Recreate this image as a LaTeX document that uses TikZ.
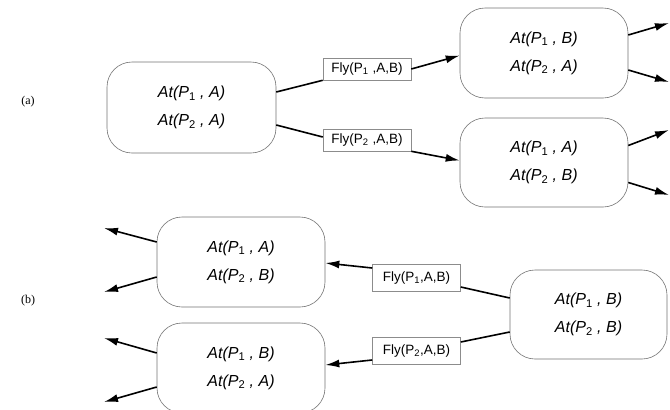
\documentclass[tikz,border=0pt]{standalone}
\usepackage{fontspec}
\setmainfont{Liberation Serif}
\newfontfamily\lsans{Liberation Sans}
\usetikzlibrary{arrows.meta}
\newcommand{\sbs}[1]{\textsubscript{\upshape #1}}
\tikzset{
  statebox/.style={draw=black!55, line width=0.6pt, rounded corners=25pt, fill=white,
    minimum width=168pt, minimum height=90pt, align=center, inner sep=0pt,
    font=\lsans\itshape\fontsize{16}{28}\selectfont},
  actbox/.style={draw=black!45, line width=0.6pt, fill=white, inner sep=0pt,
    minimum width=88pt, minimum height=22pt, font=\lsans\fontsize{13.5}{16}\selectfont},
  edge/.style={line width=1.6pt, black},
  arr/.style={edge, -{Latex[length=14pt,width=8pt]}},
  tag/.style={font=\fontsize{12}{14}\selectfont}
}
\begin{document}
\begin{tikzpicture}[x=1pt,y=-1pt]
\useasboundingbox (0,0) rectangle (670,410);
\clip (0,0) rectangle (670,410);
\node[tag] (ta) at (28,102) {(a)};
\node[tag] (tb) at (28,301) {(b)};
% (a)
\node[statebox, minimum width=169pt, minimum height=91pt] (s) at (191.5,107.5) {At(P\sbs{1} , A)\\At(P\sbs{2} , A)};
\node[statebox] (t1) at (544,53) {At(P\sbs{1} , B)\\At(P\sbs{2} , A)};
\node[statebox, minimum height=89pt] (t2) at (544,162.5) {At(P\sbs{1} , A)\\At(P\sbs{2} , B)};
\node[actbox] (la1) at (367,69) {Fly(P\sbs{1} ,A,B)};
\node[actbox] (la2) at (367,140) {Fly(P\sbs{2} ,A,B)};
\coordinate (o1) at (669,23);
\coordinate (o2) at (669,82);
\coordinate (o3) at (669,130);
\coordinate (o4) at (669,195);
\draw[edge] ([yshift=15.5pt]s.east) -- (la1.south west);
\draw[arr] (la1.east) -- ([yshift=-2.5pt]t1.west);
\draw[edge] ([yshift=-17.5pt]s.east) -- ([yshift=3pt]la2.west);
\draw[arr] (la2.south east) -- ([yshift=2pt]t2.west);
\draw[arr] ([yshift=18pt]t1.east) -- (o1);
\draw[arr] ([yshift=-17pt]t1.east) -- (o2);
\draw[arr] ([yshift=17pt]t2.east) -- (o3);
\draw[arr] ([yshift=-20pt]t2.east) -- (o4);
% (b)
\node[statebox, minimum width=157pt, minimum height=89pt] (r) at (588.5,314.5) {At(P\sbs{1} , B)\\At(P\sbs{2} , B)};
\node[statebox] (u1) at (241,262) {At(P\sbs{1} , A)\\At(P\sbs{2} , B)};
\node[statebox] (u2) at (241,368) {At(P\sbs{1} , B)\\At(P\sbs{2} , A)};
\node[actbox, minimum height=27pt] (lb1) at (416.5,278) {Fly(P\sbs{1},A,B)};
\node[actbox, minimum height=27pt] (lb2) at (416.5,351) {Fly(P\sbs{2},A,B)};
\coordinate (p1) at (104,228);
\coordinate (p2) at (104,292);
\coordinate (p3) at (104,338);
\coordinate (p4) at (104,402);
\draw[edge] ([yshift=16.5pt]r.west) -- ([yshift=-9pt]lb1.east);
\draw[arr] ([yshift=10pt]lb1.west) -- ([yshift=-1pt]u1.east);
\draw[edge] ([yshift=-17.5pt]r.west) -- ([yshift=9pt]lb2.east);
\draw[arr] ([yshift=-9pt]lb2.west) -- ([yshift=3pt]u2.east);
\draw[arr] ([yshift=20pt]u1.west) -- (p1);
\draw[arr] ([yshift=-15pt]u1.west) -- (p2);
\draw[arr] ([yshift=15pt]u2.west) -- (p3);
\draw[arr] ([yshift=-19pt]u2.west) -- (p4);
\end{tikzpicture}
\end{document}
